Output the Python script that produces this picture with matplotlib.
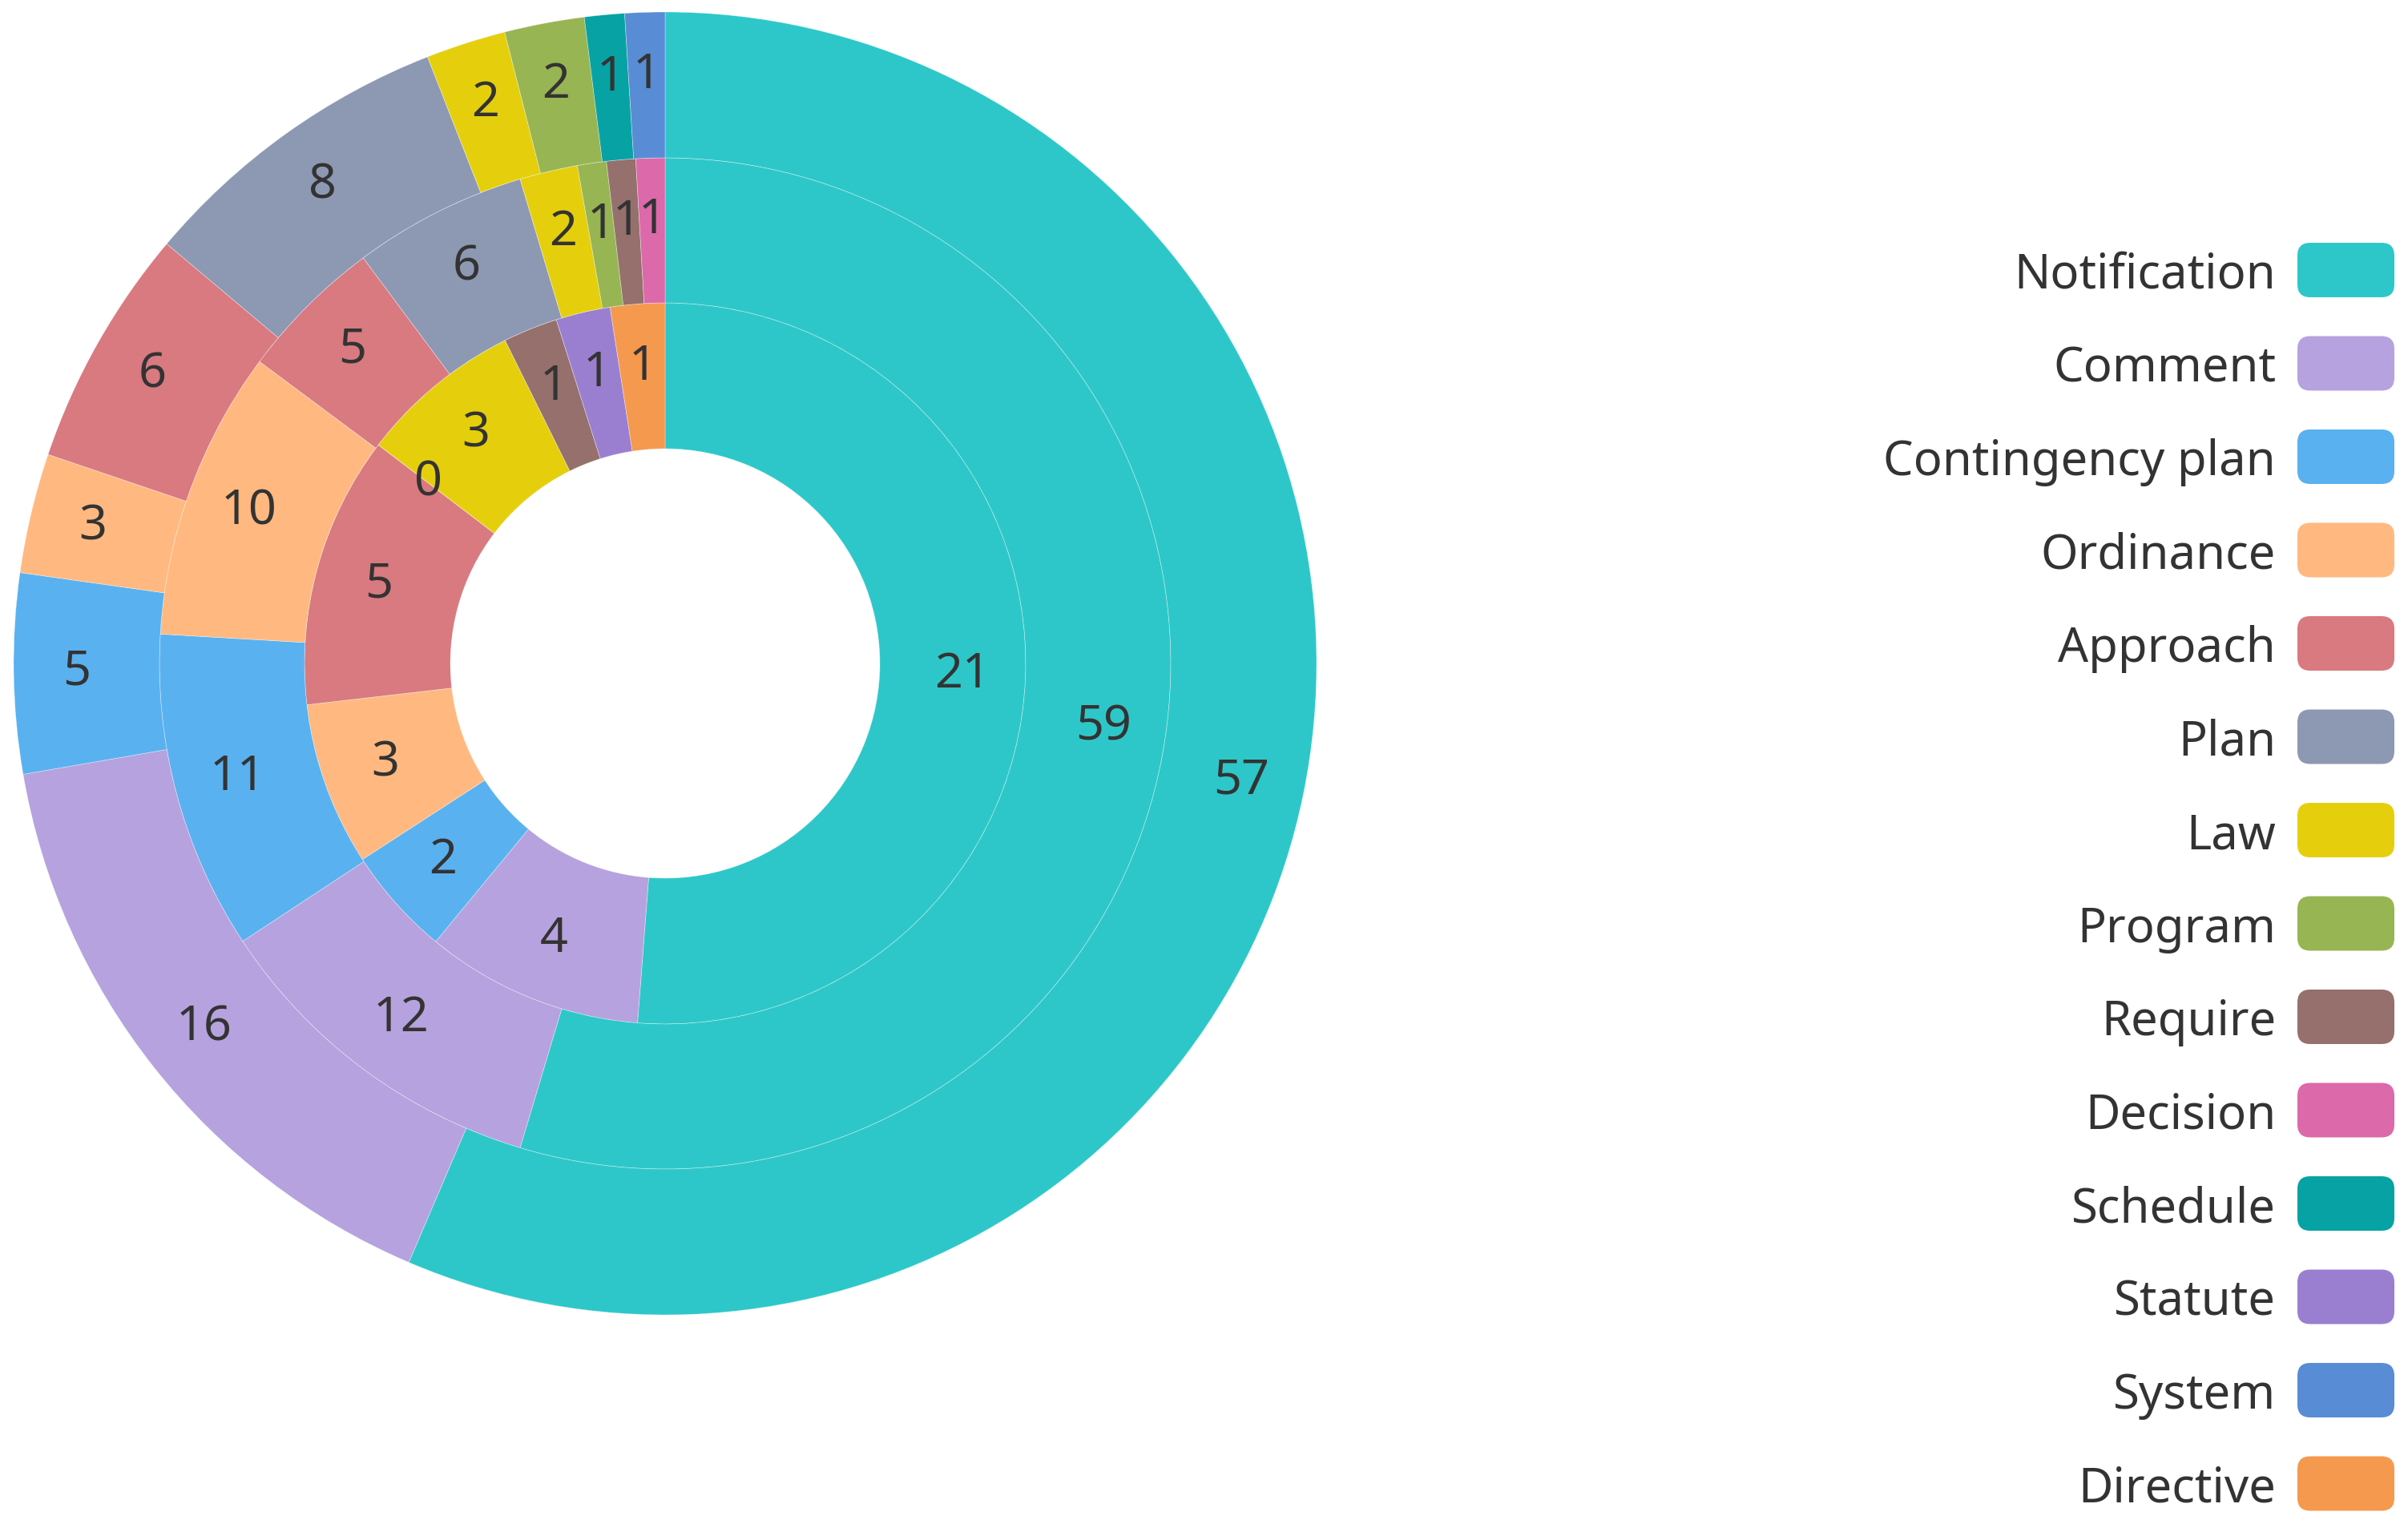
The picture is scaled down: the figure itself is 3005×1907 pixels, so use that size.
import matplotlib
matplotlib.use("Agg")
import numpy as np
import matplotlib.pyplot as plt
from matplotlib.patches import FancyBboxPatch

# categories in legend order
categories = [
    "Notification", "Comment", "Contingency plan", "Ordinance", "Approach",
    "Plan", "Law", "Program", "Require", "Decision", "Schedule", "Statute",
    "System", "Directive",
]

colors = [
    "#2ec7c9", "#b6a2de", "#5ab1ef", "#ffb980", "#d87a80", "#8d98b3",
    "#e5cf0d", "#97b552", "#95706d", "#dc69aa", "#07a2a4", "#9a7fd1",
    "#588dd5", "#f5994e",
]

# inner ring
inner_names = ["Notification", "Comment", "Contingency plan", "Ordinance",
               "Approach", "Plan", "Law", "Require", "Statute", "Directive"]
inner_values = [21, 4, 2, 3, 5, 0, 3, 1, 1, 1]

# middle ring
middle_names = ["Notification", "Comment", "Contingency plan", "Ordinance",
                "Approach", "Plan", "Law", "Program", "Require", "Decision"]
middle_values = [59, 12, 11, 10, 5, 6, 2, 1, 1, 1]

# outer ring
outer_names = ["Notification", "Comment", "Contingency plan", "Ordinance",
               "Approach", "Plan", "Law", "Program", "Schedule", "System"]
outer_values = [57, 16, 5, 3, 6, 8, 2, 2, 1, 1]

color_of = dict(zip(categories, colors))
text_color = "#333333"
font = "Noto Sans"

W, H = 3005, 1907
fig = plt.figure(figsize=(W / 100, H / 100), dpi=100)
ax = fig.add_axes([0, 0, 1, 1])

cx, cy = 830, H - 828
radii = [268, 450, 631, 813]

rings = [
    (inner_names, inner_values),
    (middle_names, middle_values),
    (outer_names, outer_values),
]

for k, (names, values) in enumerate(rings):
    r_in, r_out = radii[k], radii[k + 1]
    wedges, _ = ax.pie(
        values,
        radius=r_out,
        center=(cx, cy),
        startangle=90,
        counterclock=False,
        colors=[color_of[n] for n in names],
        wedgeprops=dict(width=r_out - r_in, edgecolor=(1, 1, 1, 0.45),
                        linewidth=0.5),
        frame=True,
    )
    r_mid = (r_in + r_out) / 2 + 12
    for w, v in zip(wedges, values):
        ang = np.deg2rad((w.theta1 + w.theta2) / 2)
        ax.text(cx + r_mid * np.cos(ang), cy + r_mid * np.sin(ang), str(v),
                ha="center", va="center", fontsize=44, color=text_color,
                family=font)

ax.set_xlim(0, W)
ax.set_ylim(0, H)
ax.set_aspect("equal")
ax.axis("off")

# legend
box_x, box_w, box_h = 2867, 121, 68
top_y, step = 337, 116.5
for i, name in enumerate(categories):
    y = H - (top_y + i * step)
    ax.add_patch(FancyBboxPatch(
        (box_x, y - box_h / 2), box_w, box_h,
        boxstyle="round,pad=0,rounding_size=16",
        facecolor=color_of[name], edgecolor="none",
    ))
    ax.text(box_x - 27, y, name, ha="right", va="center_baseline",
            fontsize=43, color=text_color, family=font)

fig.savefig("out.png", dpi=100)
